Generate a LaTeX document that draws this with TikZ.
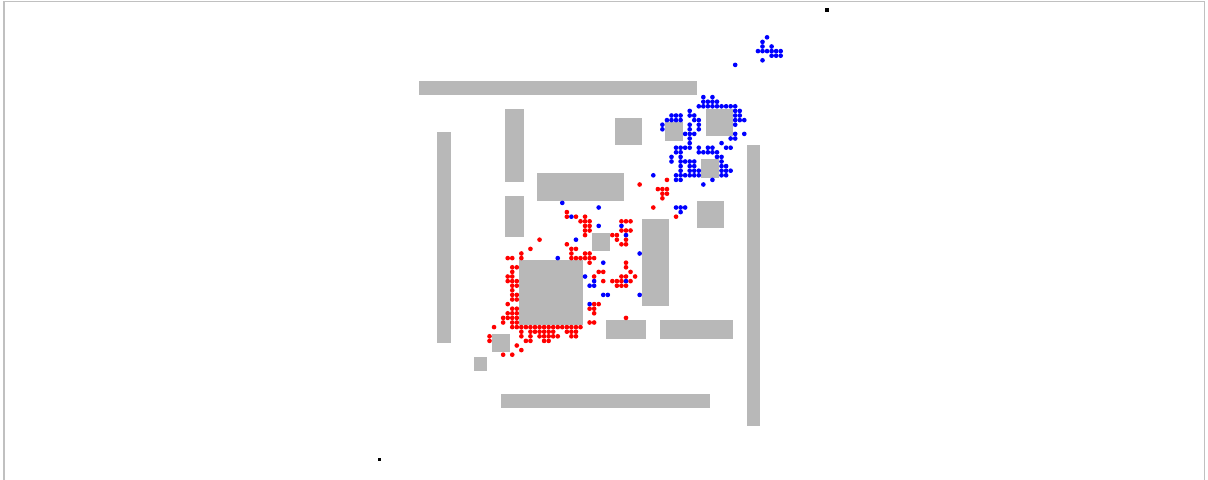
\documentclass[tikz,border=0pt]{standalone}
\definecolor{obst}{RGB}{184,184,184}
\definecolor{framec}{RGB}{192,192,192}
\tikzset{
  obstacle/.style={fill=obst},
  rdot/.style={fill=red},
  bdot/.style={fill=blue},
  marker/.style={fill=black}
}
\newcommand\obstrect[4]{\fill[obstacle] ({378.025+4.55*#1},{462.8-4.6*#3}) rectangle ({382.575+4.55*#2},{458.2-4.6*#4});}
\begin{document}
\begin{tikzpicture}[x=0.75pt,y=-0.75pt]
\useasboundingbox (0,0) rectangle (1208,479);
\draw[framec, line width=1.1pt] (4,485) -- (4,1.5) -- (1204.5,1.5) -- (1204.5,485);
% obstacles: i1,i2,j1,j2
\obstrect{9}{69}{80}{82}
\obstrect{13}{15}{26}{71}
\obstrect{28}{31}{61}{76}
\obstrect{28}{31}{49}{57}
\obstrect{35}{53}{57}{62}
\obstrect{52}{57}{69}{74}
\obstrect{63}{66}{70}{73}
\obstrect{72}{77}{71}{76}
\obstrect{71}{74}{62}{65}
\obstrect{70}{75}{51}{56}
\obstrect{81}{83}{8}{68}
\obstrect{58}{63}{34}{52}
\obstrect{47}{50}{46}{49}
\obstrect{31}{44}{30}{43}
\obstrect{50}{58}{27}{30}
\obstrect{62}{77}{27}{30}
\obstrect{25}{28}{24}{27}
\obstrect{21}{23}{20}{22}
\obstrect{27}{72}{12}{14}
% red dots
\foreach \i/\j in {
63/61,57/60,61/59,62/59,63/59,62/58,63/58,62/57,60/55,65/53,
41/54,41/53,43/53,44/52,45/53,45/52,46/52,45/51,46/51,45/50,46/50,45/49,
53/52,54/52,55/52,53/50,54/50,55/50,54/48,53/47,54/47,52/48,51/49,52/49,
35/48,33/46,31/45,31/44,28/44,29/44,41/47,42/46,43/46,42/45,42/44,43/44,44/44,
45/45,46/45,45/44,46/44,46/43,47/44,
48/41,49/41,47/40,49/39,54/43,54/42,55/41,56/40,53/40,54/40,51/39,52/39,53/39,55/39,52/38,53/38,54/38,
47/34,48/34,46/33,47/33,47/32,46/30,47/30,54/31,
29/42,30/42,29/41,28/40,29/40,28/39,29/39,30/39,29/38,30/38,29/37,29/36,30/36,29/35,30/35,28/34,
29/33,30/33,28/32,29/32,30/32,27/31,28/31,29/31,30/31,27/30,29/30,30/30,
25/29,29/29,30/29,31/29,32/29,33/29,34/29,35/29,36/29,37/29,38/29,39/29,40/29,41/29,42/29,43/29,44/29,
31/28,33/28,34/28,35/28,36/28,37/28,38/28,41/28,42/28,43/28,
31/27,33/27,35/27,36/27,37/27,38/27,39/27,42/27,43/27,
32/26,33/26,36/26,37/26,30/25,31/24,27/23,29/23,24/27,24/26}
  \fill[rdot] ({380.3+4.55*\i},{460.5-4.6*\j}) circle[radius=1.75pt];
% blue dots
\foreach \i/\j in {
85/92,84/91,84/90,86/90,83/89,84/89,85/89,86/89,87/89,88/89,86/88,87/88,88/88,84/87,78/86,
71/79,73/79,
71/78,72/78,73/78,74/78,
70/77,71/77,72/77,73/77,74/77,75/77,76/77,77/77,78/77,
68/76,78/76,79/76,
64/75,65/75,66/75,68/75,69/75,78/75,79/75,
63/74,64/74,65/74,66/74,69/74,70/74,78/74,79/74,80/74,
62/73,68/73,70/73,78/73,
62/72,68/72,70/72,
67/71,68/71,69/71,78/71,80/71,
68/70,77/70,78/70,
68/69,75/69,
65/68,66/68,67/68,68/68,70/68,72/68,73/68,76/68,77/68,
65/67,66/67,70/67,71/67,72/67,73/67,74/67,
64/66,66/66,74/66,75/66,
64/65,66/65,67/65,68/65,69/65,75/65,
66/64,68/64,69/64,75/64,76/64,
66/63,68/63,69/63,70/63,75/63,76/63,77/63,
60/62,65/62,66/62,67/62,68/62,69/62,70/62,75/62,76/62,
65/61,66/61,73/61,
71/60,
65/55,66/55,67/55,66/54,
40/56,48/55,42/53,48/51,53/51,54/49,43/48,39/44,49/43,57/45,45/40,47/39,46/38,47/38,49/36,50/36,57/36,46/34,54/39}
  \fill[bdot] ({380.3+4.55*\i},{460.5-4.6*\j}) circle[radius=1.75pt];
% start / goal markers
\fill[marker] (824.5,8) rectangle (828.5,12);
\fill[marker] (378.2,458) rectangle (381.4,461.2);
\end{tikzpicture}
\end{document}
